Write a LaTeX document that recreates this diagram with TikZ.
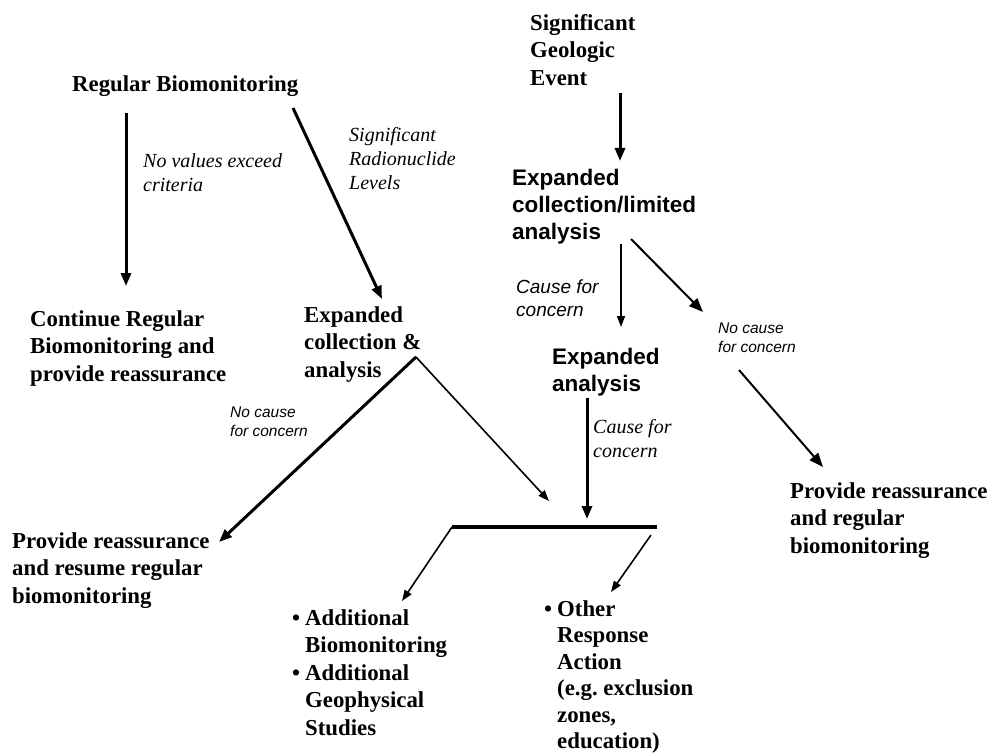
\documentclass[tikz,border=0pt]{standalone}
\usepackage{fontspec}
\setmainfont{Liberation Serif}
\setsansfont{Liberation Sans}
\usetikzlibrary{arrows.meta}
\tikzset{
  txt/.style={align=left, inner sep=0pt, anchor=north west},
  boldser/.style={txt, font=\fontsize{22.8}{27.5}\selectfont\bfseries},
  boldsertight/.style={txt, font=\fontsize{22.8}{26.5}\selectfont\bfseries},
  boldsans/.style={txt, font=\fontsize{22.5}{27}\selectfont\sffamily\bfseries},
  itser/.style={txt, font=\fontsize{20}{24}\selectfont\itshape},
  itsans/.style={txt, font=\fontsize{19}{23}\selectfont\sffamily\itshape},
  itsanssm/.style={txt, font=\fontsize{15.5}{19}\selectfont\sffamily\itshape},
  thickarr/.style={line width=3pt, -{Triangle[length=13pt,width=10pt]}},
  medarr/.style={line width=2pt, -{Triangle[length=14pt,width=11pt]}},
  thinarr/.style={line width=1.6pt, -{Triangle[length=11pt,width=8pt]}},
}
\newcommand{\bitem}{\llap{\textbullet\hspace{5pt}}}
\begin{document}
\begin{tikzpicture}[x=1pt,y=-1pt]
\path[use as bounding box, fill=white] (0,0) rectangle (998,754);

% nodes
\node[boldser] (rb) at (72,75) {Regular Biomonitoring};
\node[boldser] (sge) at (530,14) {Significant\\Geologic\\Event};
\node[boldsans] (ecl) at (512,169) {Expanded\\collection/limited\\analysis};
\node[boldser] (crb) at (30,310) {Continue Regular\\Biomonitoring and\\provide reassurance};
\node[boldser] (eca) at (304,306) {Expanded\\collection \&\\analysis};
\node[boldsans] (ea) at (552,348) {Expanded\\analysis};
\node[boldser] (prr) at (790,482) {Provide reassurance\\and regular\\biomonitoring};
\node[boldser] (prl) at (12,532) {Provide reassurance\\and resume regular\\biomonitoring};
\node[boldser] (addl) at (305,609) {\bitem Additional\\Biomonitoring\\\bitem Additional\\Geophysical\\Studies};
\node[boldsertight] (other) at (557,600) {\bitem Other\\Response\\Action\\(e.g.\ exclusion\\zones,\\education)};

% labels
\node[itser] (l1) at (143,153) {No values exceed\\criteria};
\node[itser] (l2) at (349,127) {Significant\\Radionuclide\\Levels};
\node[itsans] (l3) at (516,280) {Cause for\\concern};
\node[itsanssm] (l4) at (718,323) {No cause\\for concern};
\node[itsanssm] (l5) at (230,407) {No cause\\for concern};
\node[itser] (l6) at (593,419) {Cause for\\concern};

% connector coordinates
\coordinate (a1s) at (126,113); \coordinate (a1e) at (126,286);
\coordinate (a2s) at (293,108); \coordinate (a2e) at (382,299);
\coordinate (a3s) at (620,93);  \coordinate (a3e) at (620,161);
\coordinate (a4s) at (621,244); \coordinate (a4e) at (621,327);
\coordinate (a5s) at (631,239); \coordinate (a5e) at (703,312);
\coordinate (a6s) at (739,370); \coordinate (a6e) at (823,467);
\coordinate (apex) at (416,357);
\coordinate (a7e) at (219,542);
\coordinate (a8e) at (549,501);
\coordinate (a9s) at (587,398); \coordinate (a9e) at (587,519);
\coordinate (barl) at (452,527); \coordinate (barr) at (657,527);
\coordinate (a10e) at (402,601);
\coordinate (a11s) at (651,535); \coordinate (a11e) at (611,592);

\draw[thickarr] (a1s) -- (a1e);
\draw[thickarr] (a2s) -- (a2e);
\draw[thickarr] (a3s) -- (a3e);
\draw[thinarr] (a4s) -- (a4e);
\draw[medarr] (a5s) -- (a5e);
\draw[medarr] (a6s) -- (a6e);
\draw[thickarr] (apex) -- (a7e);
\draw[thinarr] (apex) -- (a8e);
\draw[thickarr] (a9s) -- (a9e);
\draw[line width=3.5pt] (barl) -- (barr);
\draw[thinarr] (barl) -- (a10e);
\draw[thinarr] (a11s) -- (a11e);
\end{tikzpicture}
\end{document}
